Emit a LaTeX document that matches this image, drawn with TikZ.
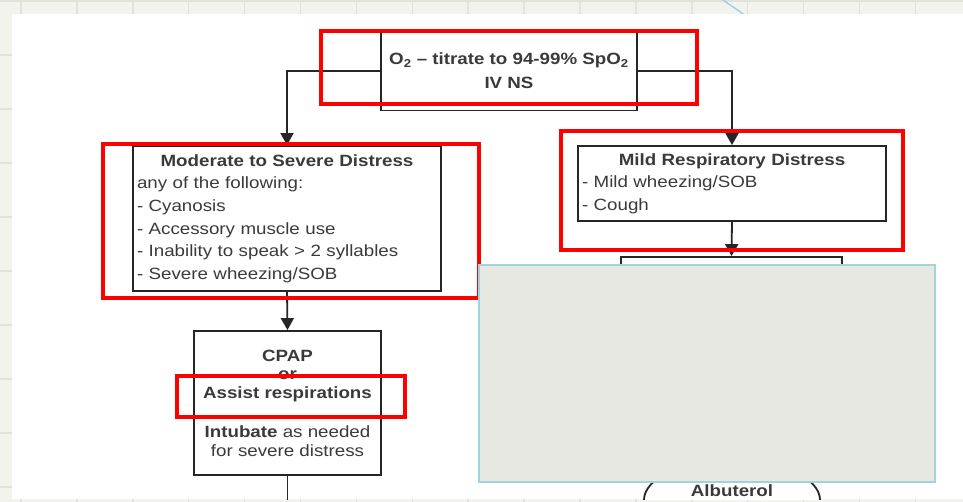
\documentclass[tikz,border=0pt]{standalone}
\usepackage{fontspec}
\setmainfont[FakeStretch=1.15]{Liberation Sans}
\usetikzlibrary{arrows.meta,positioning,shapes.geometric}

\definecolor{slidebg}{HTML}{F3F3EE}
\definecolor{gridline}{HTML}{E2E2DB}
\definecolor{inktext}{HTML}{3A3A3A}
\definecolor{boxline}{HTML}{262626}
\definecolor{hilite}{HTML}{FF0000}
\definecolor{coverfill}{HTML}{E8E8E2}
\definecolor{coverline}{HTML}{9ED3DF}

\tikzset{
  flowbox/.style={draw=boxline, line width=1.8pt, fill=white, text=inktext, inner xsep=4pt},
  hibox/.style={draw=hilite, line width=4pt},
  flow/.style={draw=boxline, line width=1.8pt, -{Triangle[length=12pt,width=13pt]}},
}

\begin{document}
\begin{tikzpicture}[x=1pt, y=-1pt, font=\fontsize{16.3}{22.6}\selectfont]
   \useasboundingbox (0,0) rectangle (963,502);
   % slide behind the page
   \fill[slidebg] (0,0) rectangle (963,502);
   \foreach \gx in {0,...,16}
      \draw[gridline, line width=1.5pt] ({21+55.9*\gx},0) -- ++(0,502);
   \foreach \gy in {0,...,9}
      \draw[gridline, line width=1.5pt] (0,{1+54*\gy}) -- ++(963,0);
   \draw[coverline, line width=1.5pt] (719,-3) .. controls (728,4) and (737,9) .. (747,17);
   \fill[white] (12,14) rectangle (963,499);

   \begin{scope}
   \clip (12,14) rectangle (963,499);

   \node[flowbox, align=center, minimum width=256pt, minimum height=79pt,
         font=\fontsize{16.3}{24}\selectfont\bfseries] (oxygen) at (509,71)
      {O\textsubscript{2} -- titrate to 94-99\% SpO\textsubscript{2}\\IV NS};
   \node[flowbox, text width=300pt, minimum height=145pt, align=left] (severe) at (287,218.5)
      {{\centering\bfseries Moderate to Severe Distress\par}
       any of the following:\\- Cyanosis\\- Accessory muscle use\\
       - Inability to speak > 2 syllables\\- Severe wheezing/SOB};
   \node[flowbox, text width=300pt, minimum height=75pt, align=left] (mild) at (732,183.5)
      {{\centering\bfseries Mild Respiratory Distress\par}
       - Mild wheezing/SOB\\- Cough};
   \node[flowbox, align=center, minimum width=187pt, minimum height=144pt,
         font=\fontsize{16.3}{18.5}\selectfont] (cpap) at (287.5,403)
      {\textbf{CPAP}\\\textbf{or}\\\textbf{Assist respirations}\\[21pt]
       \textbf{Intubate} as needed\\for severe distress};
   \node[flowbox, minimum width=221pt, minimum height=120pt] (mildcare) at (731.5,317) {};
   \node[flowbox, ellipse, minimum width=176pt, minimum height=80pt] (albuterol) at (732,500) {};
   \node[text=inktext, font=\fontsize{16.3}{18.5}\selectfont\bfseries] (albutext) at (732,491) {Albuterol};
   \coordinate (cpapout) at (287.5,505);

   % connectors
   \draw[flow] (oxygen.west) -| (severe.north);
   \draw[flow] (oxygen.east) -| (mild.north);
   \draw[flow] (severe.south) -- (cpap.north);
   \draw[flow] (mild.south) -- (mildcare.north);
   \draw[draw=boxline, line width=1.8pt] (cpap.south) -- (cpapout);

   % highlights
   \draw[hibox] (321,31) rectangle (697,104);
   \draw[hibox] (103,144) rectangle (479,298);
   \draw[hibox] (561,131) rectangle (903,250);
   \draw[hibox] (177,376) rectangle (405,417);

   % cover panel
   \draw[fill=coverfill, draw=coverline, line width=1.5pt] (479,265) rectangle (935,482);
   \end{scope}
\end{tikzpicture}
\end{document}
